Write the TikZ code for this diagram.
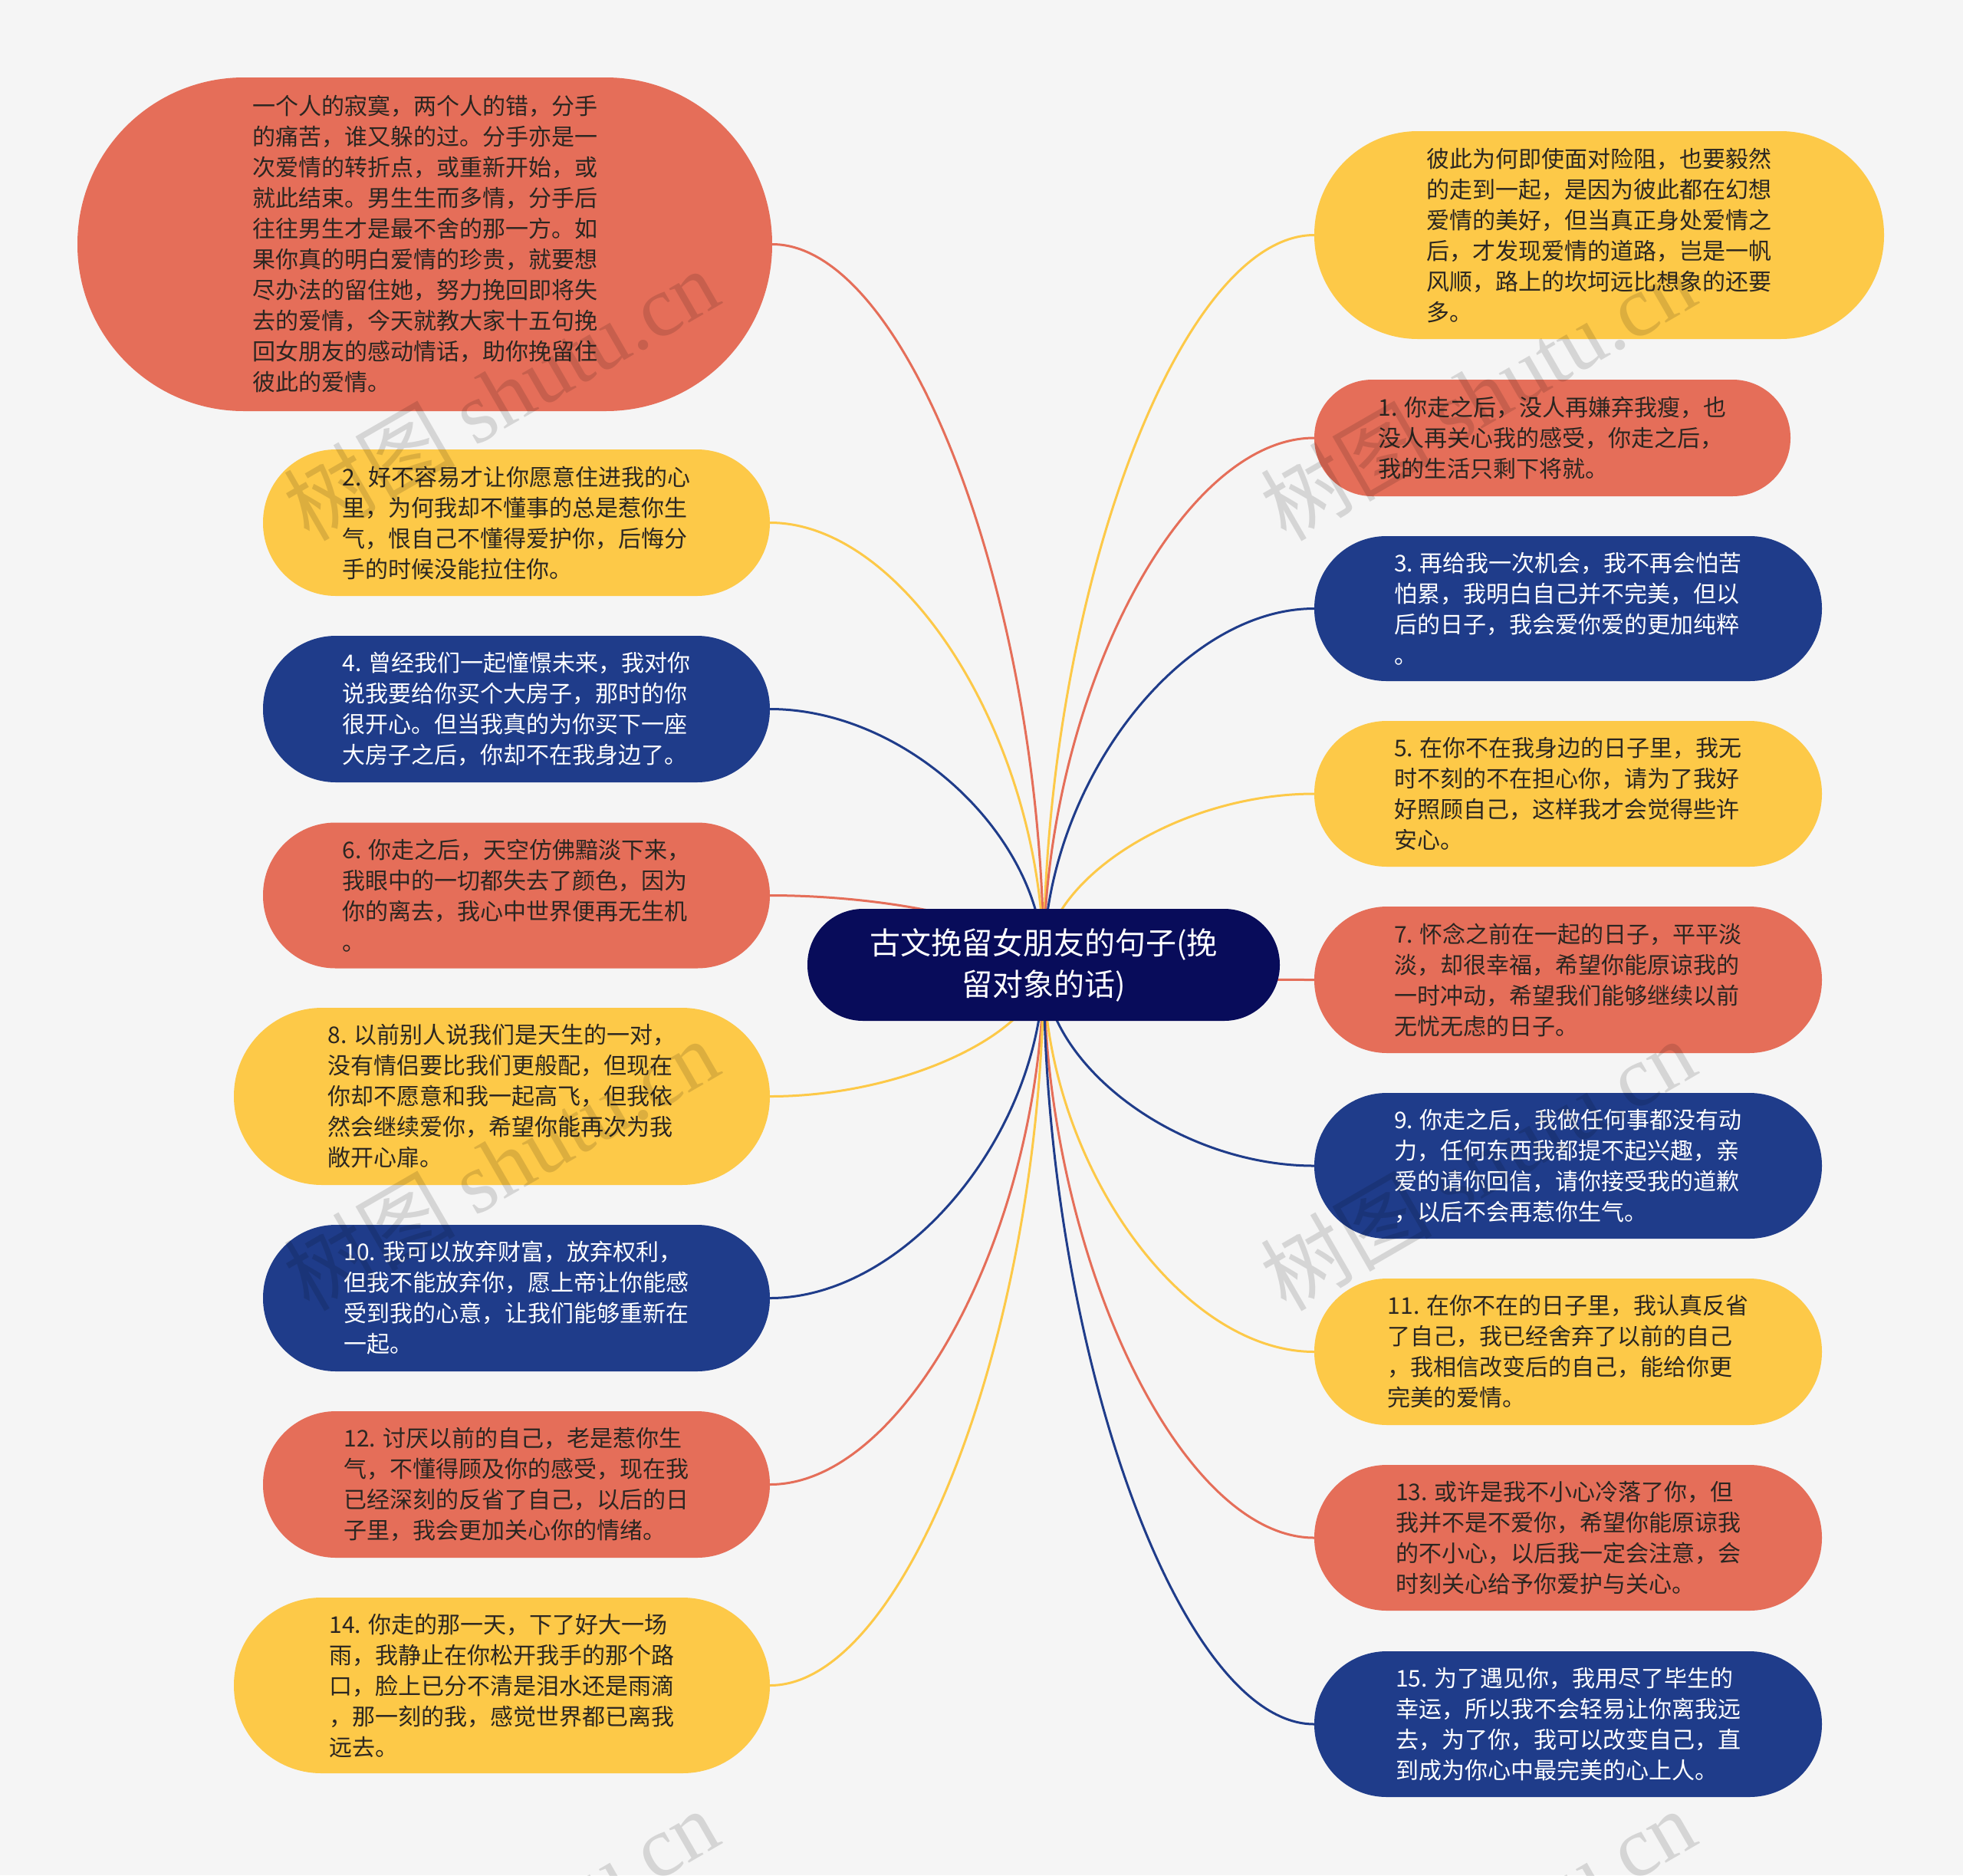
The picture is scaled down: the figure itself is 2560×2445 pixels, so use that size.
\documentclass[tikz,border=0pt]{standalone}
\usepackage{fontspec}
\setmainfont{Noto Sans CJK SC}
\newfontfamily\wmfont{Liberation Serif}
\usetikzlibrary{calc}
\definecolor{cred}{RGB}{229,110,89}
\definecolor{cyellow}{RGB}{253,201,72}
\definecolor{cblue}{RGB}{31,60,138}
\definecolor{cnavy}{RGB}{8,12,90}
\definecolor{cbg}{RGB}{245,245,245}
\definecolor{ctext}{RGB}{43,38,33}
\pgfdeclarelayer{back}
\pgfdeclarelayer{lines}
\pgfsetlayers{back,lines,main}
\tikzset{
  leaf/.style={rectangle, align=left, inner sep=0pt, font=\fontsize{30pt}{40pt}\selectfont},
  rednode/.style={leaf, fill=cred, text=ctext},
  yellownode/.style={leaf, fill=cyellow, text=ctext},
  bluenode/.style={leaf, fill=cblue, text=white},
  sz/.style n args={2}{minimum width=#1, minimum height=#2, rounded corners=#2/2-0.5pt},
  conn/.style={line width=3pt, draw=#1},
  wmark/.style={rotate=30, text=black, text opacity=0.13, font=\fontsize{112pt}{112pt}\selectfont},
}
\newcommand{\mmlink}[2]{\draw[conn=#1] (#2) .. controls ($(#2)!0.5!(#2 -| c.center)$) and ($(c.center)!0.5!(#2 -| c.center)$) .. (c.center);}
\begin{document}
\begin{tikzpicture}[x=1pt,y=-1pt]
\begin{pgfonlayer}{back}
\fill[cbg] (0,0) rectangle (2560,2445);
\end{pgfonlayer}
\useasboundingbox (0,0) rectangle (2560,2445);

% center
\node[rectangle, fill=cnavy, text=white, align=center, inner sep=0pt, sz={616pt}{146pt}, font=\fontsize{40pt}{54pt}\selectfont] (c) at (1361,1258) {古文挽留女朋友的句子(挽\\留对象的话)};

% left column
\node[rednode, sz={906pt}{435pt}] (a) at (554,318.5) {一个人的寂寞，两个人的错，分手\\的痛苦，谁又躲的过。分手亦是一\\次爱情的转折点，或重新开始，或\\就此结束。男生生而多情，分手后\\往往男生才是最不舍的那一方。如\\果你真的明白爱情的珍贵，就要想\\尽办法的留住她，努力挽回即将失\\去的爱情，今天就教大家十五句挽\\回女朋友的感动情话，助你挽留住\\彼此的爱情。};
\node[yellownode, sz={661pt}{191pt}] (n2) at (673.5,681.5) {2. 好不容易才让你愿意住进我的心\\里，为何我却不懂事的总是惹你生\\气，恨自己不懂得爱护你，后悔分\\手的时候没能拉住你。};
\node[bluenode, sz={661pt}{191pt}] (n4) at (673.5,924.5) {4. 曾经我们一起憧憬未来，我对你\\说我要给你买个大房子，那时的你\\很开心。但当我真的为你买下一座\\大房子之后，你却不在我身边了。};
\node[rednode, sz={661pt}{190pt}] (n6) at (673.5,1167.5) {6. 你走之后，天空仿佛黯淡下来，\\我眼中的一切都失去了颜色，因为\\你的离去，我心中世界便再无生机\\。};
\node[yellownode, sz={699pt}{231pt}] (n8) at (654.5,1429.5) {8. 以前别人说我们是天生的一对，\\没有情侣要比我们更般配，但现在\\你却不愿意和我一起高飞，但我依\\然会继续爱你，希望你能再次为我\\敞开心扉。};
\node[bluenode, sz={661pt}{191pt}] (n10) at (673.5,1692.5) {10. 我可以放弃财富，放弃权利，\\但我不能放弃你，愿上帝让你能感\\受到我的心意，让我们能够重新在\\一起。};
\node[rednode, sz={661pt}{191pt}] (n12) at (673.5,1935.5) {12. 讨厌以前的自己，老是惹你生\\气，不懂得顾及你的感受，现在我\\已经深刻的反省了自己，以后的日\\子里，我会更加关心你的情绪。};
\node[yellownode, sz={699pt}{229pt}] (n14) at (654.5,2197.5) {14. 你走的那一天，下了好大一场\\雨，我静止在你松开我手的那个路\\口，脸上已分不清是泪水还是雨滴\\，那一刻的我，感觉世界都已离我\\远去。};

% right column
\node[yellownode, sz={743pt}{271pt}] (r0) at (2085.5,306.5) {彼此为何即使面对险阻，也要毅然\\的走到一起，是因为彼此都在幻想\\爱情的美好，但当真正身处爱情之\\后，才发现爱情的道路，岂是一帆\\风顺，路上的坎坷远比想象的还要\\多。};
\node[rednode, sz={621pt}{152pt}] (r1) at (2024.5,571) {1. 你走之后，没人再嫌弃我瘦，也\\没人再关心我的感受，你走之后，\\我的生活只剩下将就。};
\node[bluenode, sz={662pt}{189pt}] (r3) at (2045,793.5) {3. 再给我一次机会，我不再会怕苦\\怕累，我明白自己并不完美，但以\\后的日子，我会爱你爱的更加纯粹\\。};
\node[yellownode, sz={662pt}{190pt}] (r5) at (2045,1035) {5. 在你不在我身边的日子里，我无\\时不刻的不在担心你，请为了我好\\好照顾自己，这样我才会觉得些许\\安心。};
\node[rednode, sz={662pt}{191pt}] (r7) at (2045,1277.5) {7. 怀念之前在一起的日子，平平淡\\淡，却很幸福，希望你能原谅我的\\一时冲动，希望我们能够继续以前\\无忧无虑的日子。};
\node[bluenode, sz={662pt}{190pt}] (r9) at (2045,1520) {9. 你走之后，我做任何事都没有动\\力，任何东西我都提不起兴趣，亲\\爱的请你回信，请你接受我的道歉\\，以后不会再惹你生气。};
\node[yellownode, sz={662pt}{191pt}] (r11) at (2045,1762.5) {11. 在你不在的日子里，我认真反省\\了自己，我已经舍弃了以前的自己\\，我相信改变后的自己，能给你更\\完美的爱情。};
\node[rednode, sz={662pt}{190pt}] (r13) at (2045,2005) {13. 或许是我不小心冷落了你，但\\我并不是不爱你，希望你能原谅我\\的不小心，以后我一定会注意，会\\时刻关心给予你爱护与关心。};
\node[bluenode, sz={662pt}{190pt}] (r15) at (2045,2248) {15. 为了遇见你，我用尽了毕生的\\幸运，所以我不会轻易让你离我远\\去，为了你，我可以改变自己，直\\到成为你心中最完美的心上人。};

\begin{pgfonlayer}{lines}
\mmlink{cred}{a.east}
\mmlink{cyellow}{n2.east}
\mmlink{cblue}{n4.east}
\mmlink{cred}{n6.east}
\mmlink{cyellow}{n8.east}
\mmlink{cblue}{n10.east}
\mmlink{cred}{n12.east}
\mmlink{cyellow}{n14.east}
\mmlink{cyellow}{r0.west}
\mmlink{cred}{r1.west}
\mmlink{cblue}{r3.west}
\mmlink{cyellow}{r5.west}
\mmlink{cred}{r7.west}
\mmlink{cblue}{r9.west}
\mmlink{cyellow}{r11.west}
\mmlink{cred}{r13.west}
\mmlink{cblue}{r15.west}
\end{pgfonlayer}

% watermarks
\node[wmark] (w1) at (653,514) {树图 {\wmfont shutu.cn}};
\node[wmark] (w2) at (1927,514) {树图 {\wmfont shutu.cn}};
\node[wmark] (w3) at (653,1518) {树图 {\wmfont shutu.cn}};
\node[wmark] (w4) at (1927,1518) {树图 {\wmfont shutu.cn}};
\node[wmark] (w5) at (653,2522) {树图 {\wmfont shutu.cn}};
\node[wmark] (w6) at (1927,2522) {树图 {\wmfont shutu.cn}};
\end{tikzpicture}
\end{document}
